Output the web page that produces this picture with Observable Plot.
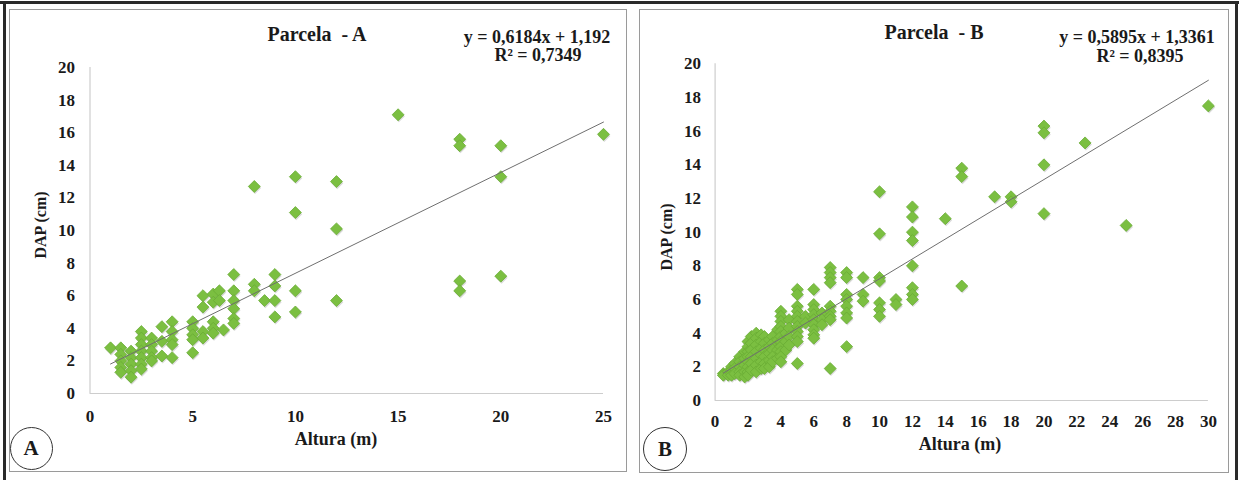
<!DOCTYPE html>
<html>
<head>
<meta charset="utf-8">
<script src="https://cdn.jsdelivr.net/npm/d3@7"></script>
<script src="https://cdn.jsdelivr.net/npm/@observablehq/plot@0.6"></script>
<style>
  html, body { margin: 0; padding: 0; background: #fff; }
  #page { position: relative; width: 1239px; height: 480px; overflow: hidden; background: #fff;
          font-family: "Liberation Serif", "Tinos", "Times New Roman", "DejaVu Serif", serif; font-weight: bold; color: #1a1a1a; }
  .abs { position: absolute; }
  .lbl { position: absolute; white-space: pre; line-height: 1; }
  .box { position: absolute; border: 1px solid #9a9a9a; box-sizing: border-box; z-index: 5; }
  .dark { position: absolute; background: #2a2a2a; z-index: 6; }
  .circ { position: absolute; border: 1.2px solid #333; border-radius: 50%; box-sizing: border-box;
          display: flex; align-items: center; justify-content: center; font-size: 21px; z-index: 7; background: transparent; }
  svg text { font-family: "Liberation Serif", "Tinos", "Times New Roman", "DejaVu Serif", serif !important; font-weight: bold; }
</style>
</head>
<body>
<div id="page"></div>
<script>
// ---------- Data ----------
// Parcela A: altura (m) values and the DAP (cm) values observed at each altura
const alturaA = [1, 1.5, 2, 2.5, 3, 3.5, 4, 5, 5.5, 6, 6.3, 6.5, 7, 8, 8.5, 9, 10, 12, 15, 18, 20, 25];
const dapA = [
  [2.8],
  [2.8, 2.4, 2.0, 1.6, 1.3],
  [2.6, 2.2, 1.8, 1.4, 1.0],
  [3.8, 3.4, 3.0, 2.6, 2.2, 1.8, 1.5],
  [3.4, 3.0, 2.6, 2.2, 2.0],
  [4.1, 3.2, 2.3],
  [4.4, 3.8, 3.3, 3.0, 2.2],
  [4.4, 4.0, 3.6, 3.3, 2.5],
  [6.0, 5.3, 3.8, 3.4],
  [6.1, 5.6, 4.4, 4.0, 3.7],
  [6.3, 5.7],
  [3.9],
  [7.3, 6.3, 5.7, 5.2, 4.6, 4.3],
  [12.7, 6.7, 6.3],
  [5.7],
  [7.3, 6.6, 5.7, 4.7],
  [13.3, 11.1, 6.3, 5.0],
  [13.0, 10.1, 5.7],
  [17.1],
  [15.6, 15.2, 6.9, 6.3],
  [15.2, 13.3, 7.2],
  [15.9]
];
// Parcela B
const alturaB = [0.5, 0.8, 1, 1.2, 1.5, 1.8, 2, 2.2, 2.5, 2.8, 3, 3.3, 3.5, 3.8, 4, 4.3, 4.5, 5, 5.5, 6, 6.5, 7, 8, 9, 10, 11, 12, 14, 15, 17, 18, 20, 22.5, 25, 30];
const dapB = [
  [1.6, 1.5],
  [1.7, 1.5],
  [2.0, 1.8, 1.6, 1.5],
  [2.2, 1.9, 1.6],
  [2.6, 2.3, 2.0, 1.7, 1.5],
  [2.9, 2.5, 2.1, 1.7, 1.4],
  [3.5, 3.2, 2.9, 2.6, 2.3, 2.0, 1.7, 1.5],
  [3.8, 3.4, 3.0, 2.6, 2.2, 1.8],
  [4.0, 3.7, 3.3, 2.9, 2.5, 2.1, 1.7],
  [3.9, 3.5, 3.1, 2.7, 2.3, 1.9],
  [3.8, 3.4, 3.0, 2.6, 2.2, 1.9],
  [3.6, 3.2, 2.8, 2.4, 2.0],
  [3.8, 3.4, 3.0, 2.6, 2.3],
  [4.2, 3.6, 3.0, 2.5],
  [5.3, 5.0, 4.7, 4.4, 4.1, 3.8, 3.5, 3.2, 2.9, 2.6, 2.3],
  [4.0, 3.5, 3.0],
  [4.8, 4.3, 3.8, 3.3],
  [6.6, 6.3, 5.6, 5.3, 5.0, 4.7, 4.4, 4.1, 3.8, 3.5, 2.2],
  [5.0, 4.6],
  [6.6, 5.7, 5.4, 5.1, 4.8, 4.5, 4.2, 3.9, 3.7],
  [5.2, 4.8, 4.5],
  [7.9, 7.6, 7.3, 7.0, 5.6, 5.3, 5.0, 4.8, 1.9],
  [7.6, 7.3, 6.3, 6.0, 5.6, 5.2, 4.9, 3.2],
  [7.3, 6.3, 5.9],
  [12.4, 9.9, 7.3, 7.1, 5.8, 5.4, 5.0],
  [6.0, 5.7],
  [11.5, 10.9, 10.0, 9.5, 8.0, 6.7, 6.3, 6.0],
  [10.8],
  [13.8, 13.3, 6.8],
  [12.1],
  [12.1, 11.8],
  [16.3, 15.9, 14.0, 11.1],
  [15.3],
  [10.4],
  [17.5]
];
// Trend lines (coefficients printed on the chart) and x-extent of each line
const fitA = { slope: 0.6184, intercept: 1.192, from: 1, to: 25 };
const fitB = { slope: 0.5895, intercept: 1.3361, from: 0.5, to: 30 };
const ticksXA = [0, 5, 10, 15, 20, 25];
const ticksXB = [0, 2, 4, 6, 8, 10, 12, 14, 16, 18, 20, 22, 24, 26, 28, 30];
const ticksY = [0, 2, 4, 6, 8, 10, 12, 14, 16, 18, 20];
const titleA = "Parcela  - A", titleB = "Parcela  - B";
const eqA = ["y = 0,6184x + 1,192", "R² = 0,7349"];
const eqB = ["y = 0,5895x + 1,3361", "R² = 0,8395"];
const xTitle = "Altura (m)", yTitle = "DAP (cm)";

// ---------- Build tables ----------
const toRows = (xs, ys) => xs.flatMap((x, i) => ys[i].map(y => ({ x, y })));
const rowsA = toRows(alturaA, dapA);
const rowsB = toRows(alturaB, dapB);
const trend = f => [f.from, f.to].map(x => ({ x, y: f.slope * x + f.intercept }));

const page = document.getElementById("page");
const FONT = '"Liberation Serif", "Tinos", "Times New Roman", "DejaVu Serif", serif';

function panel(rows, fit, ticksX, xMax, geom) {
  const svg = Plot.plot({
    width: geom.width, height: 480,
    marginLeft: geom.ml, marginRight: geom.mr, marginTop: geom.mt, marginBottom: geom.mb,
    x: { domain: [0, xMax] },
    y: { domain: [0, 20] },
    style: { fontFamily: FONT, fontSize: "17px", fontWeight: "bold", color: "#1a1a1a", background: "transparent", overflow: "visible" },
    marks: [
      Plot.ruleY([0], { stroke: "#cdcdcd", strokeWidth: 1.2 }),
      Plot.ruleX([0], { stroke: "#cdcdcd", strokeWidth: 1.2 }),
      Plot.axisX({ ticks: ticksX, tickSize: 0, tickPadding: geom.tpx, label: null, fontSize: 17 }),
      Plot.axisY({ ticks: ticksY, tickSize: 0, tickPadding: geom.tpy, label: null, fontSize: 17 }),
      Plot.dot(rows, { x: "x", y: "y", symbol: "diamond2", r: 5.4, fill: "#6a6a6a", fillOpacity: 0.25, dx: 0.8, dy: 1.6 }),
      Plot.dot(rows, { x: "x", y: "y", symbol: "diamond2", r: 5.4, fill: "#7bbf41", stroke: "#6aac35", strokeWidth: 0.8 }),
      Plot.line(trend(fit), { x: "x", y: "y", stroke: "#6f6f6f", strokeWidth: 1 })
    ]
  });
  const wrap = document.createElement("div");
  wrap.className = "abs";
  wrap.style.left = geom.left + "px";
  wrap.style.top = "0px";
  wrap.appendChild(svg);
  page.appendChild(wrap);
}

panel(rowsA, fitA, ticksXA, 25, { left: 0, width: 630, ml: 89.5, mr: 27, mt: 67, mb: 87, tpx: 16, tpy: 15 });
panel(rowsB, fitB, ticksXB, 30, { left: 630, width: 609, ml: 84.6, mr: 31.1, mt: 63.3, mb: 80, tpx: 14, tpy: 14 });

// ---------- Text and frames ----------
function label(text, cx, baseline, size, rotate) {
  const d = document.createElement("div");
  d.className = "lbl";
  d.textContent = text;
  d.style.fontSize = size + "px";
  if (rotate) {
    d.style.left = cx + "px";
    d.style.top = baseline + "px";
    d.style.transform = "translate(-50%,-50%) rotate(-90deg)";
  } else {
    d.style.left = cx + "px";
    d.style.top = (baseline - 0.84 * size) + "px";
    d.style.transform = "translateX(-50%)";
  }
  page.appendChild(d);
}
label(titleA, 317, 41, 20);
label(eqA[0], 537, 43, 18);
label(eqA[1], 538, 61, 18);
label(xTitle, 336, 445, 18);
label(yTitle, 41, 225, 16, true);

label(titleB, 934, 39, 20);
label(eqB[0], 1137, 43, 18);
label(eqB[1], 1140, 62, 18);
label(xTitle, 960, 450, 18);
label(yTitle, 667, 237, 16, true);

function box(l, t, r, b) {
  const d = document.createElement("div");
  d.className = "box";
  Object.assign(d.style, { left: l + "px", top: t + "px", width: (r - l) + "px", height: (b - t) + "px" });
  page.appendChild(d);
}
box(9, 9, 627, 472);
box(639, 9, 1229, 473);

function dark(l, t, w, h) {
  const d = document.createElement("div");
  d.className = "dark";
  Object.assign(d.style, { left: l + "px", top: t + "px", width: w + "px", height: h + "px" });
  page.appendChild(d);
}
dark(0, 1, 1239, 3);
dark(3, 1, 3, 479);
dark(1235, 1, 3, 479);

function circ(cx, cy, r, letter) {
  const d = document.createElement("div");
  d.className = "circ";
  d.textContent = letter;
  Object.assign(d.style, { left: (cx - r) + "px", top: (cy - r) + "px", width: 2 * r + "px", height: 2 * r + "px" });
  page.appendChild(d);
}
circ(31, 448, 21.5, "A");
circ(665, 449, 22, "B");
</script>
</body>
</html>
